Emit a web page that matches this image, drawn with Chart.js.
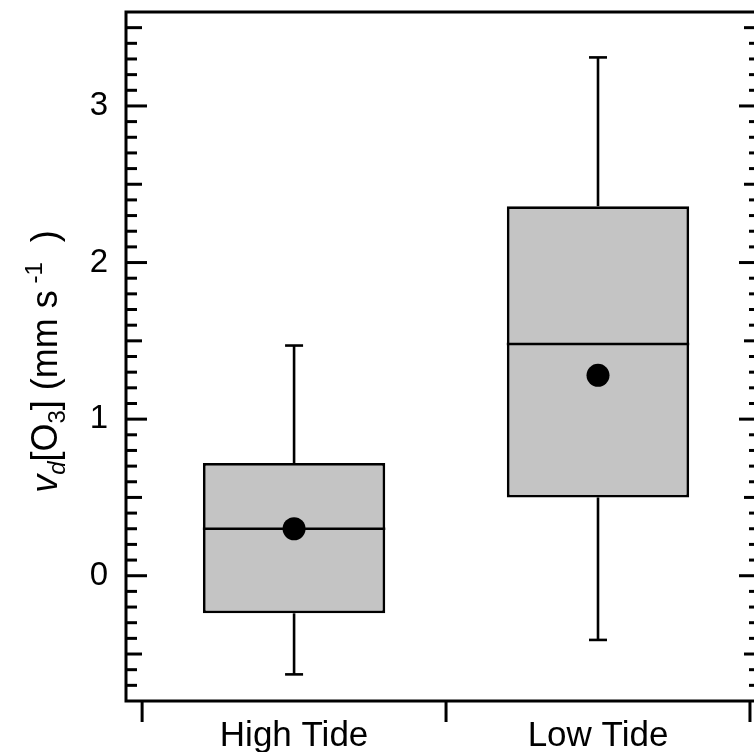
<!doctype html>
<html>
<head>
	<title>Ozone deposition velocity at high and low tide</title>
	<script src="https://cdn.jsdelivr.net/npm/chart.js@4/dist/chart.umd.min.js"></script>
	<style>
		html, body { margin: 0; padding: 0; overflow: hidden; background: #fff; }
	</style>
</head>

<body>
	<canvas id="chart-area" width="762" height="752"></canvas>
	<script>
		// box plot values (mm s-1)
		var categories = ['High Tide', 'Low Tide'];
		var whiskerLow = [-0.63, -0.41];
		var boxLow = [-0.24, 0.50];
		var medians = [0.30, 1.48];
		var boxHigh = [0.72, 2.36];
		var whiskerHigh = [1.47, 3.31];
		var means = [0.30, 1.28];
		var yTickLabels = [0, 1, 2, 3];

		var yMin = -0.8, yMax = 3.6;
		var xMin = -0.553, xMax = 1.533;
		var xBoundaries = [-0.5, 0.5, 1.5];

		var fontFamily = '"Liberation Sans", Arial, Helvetica, sans-serif';

		function line(ctx, x1, y1, x2, y2) {
			ctx.beginPath();
			ctx.moveTo(x1, y1);
			ctx.lineTo(x2, y2);
			ctx.stroke();
		}

		function noPadding(scale) {
			scale.paddingTop = 0;
			scale.paddingBottom = 0;
			scale.paddingLeft = 0;
			scale.paddingRight = 0;
		}

		// whiskers, medians, frame, inward y ticks on both sides, category separators below
		var frameTicks = {
			id: 'frameTicks',
			afterDatasetsDraw: function(chart) {
				var ctx = chart.ctx, ca = chart.chartArea;
				var xs = chart.scales.x, ys = chart.scales.y;
				ctx.save();
				ctx.strokeStyle = '#000';

				ctx.lineWidth = 2.6;
				var meta = chart.getDatasetMeta(1);
				for (var i = 0; i < categories.length; i++) {
					var cx = xs.getPixelForValue(i);
					var w = meta.data[i].width;
					line(ctx, cx, ys.getPixelForValue(boxHigh[i]), cx, ys.getPixelForValue(whiskerHigh[i]));
					line(ctx, cx, ys.getPixelForValue(boxLow[i]), cx, ys.getPixelForValue(whiskerLow[i]));
					line(ctx, cx - 9, ys.getPixelForValue(whiskerHigh[i]), cx + 9, ys.getPixelForValue(whiskerHigh[i]));
					line(ctx, cx - 9, ys.getPixelForValue(whiskerLow[i]), cx + 9, ys.getPixelForValue(whiskerLow[i]));
					line(ctx, cx - w / 2, ys.getPixelForValue(medians[i]), cx + w / 2, ys.getPixelForValue(medians[i]));
				}

				ctx.lineWidth = 3;
				ctx.strokeRect(ca.left, ca.top, ca.right - ca.left, ca.bottom - ca.top);

				for (var k = Math.round(yMin * 10) + 1; k < Math.round(yMax * 10); k++) {
					var py = ys.getPixelForValue(k / 10);
					var len = k % 10 === 0 ? 21 : (k % 5 === 0 ? 16 : 11);
					line(ctx, ca.left, py, ca.left + len, py);
					line(ctx, ca.right, py, ca.right - len, py);
				}

				xBoundaries.forEach(function(b) {
					var px = xs.getPixelForValue(b);
					line(ctx, px, ca.bottom, px, ca.bottom + 21);
				});
				ctx.restore();
			}
		};

		// rotated y title with italic subscript and superscript
		var yTitle = {
			id: 'yTitle',
			afterDraw: function(chart) {
				var ctx = chart.ctx, ca = chart.chartArea;
				var big = '36px ' + fontFamily;
				var small = '24px ' + fontFamily;
				var parts = [
					{ t: 'v', f: 'italic ' + big, dy: 0 },
					{ t: 'd', f: 'italic ' + small, dy: 8 },
					{ t: '[O', f: big, dy: 0 },
					{ t: '3', f: small, dy: 8 },
					{ t: '] (mm s', f: big, dy: 0 },
					{ t: ' -1', f: small, dy: -15 },
					{ t: '  )', f: big, dy: 0 }
				];
				ctx.save();
				var total = 0;
				parts.forEach(function(p) {
					ctx.font = p.f;
					p.w = ctx.measureText(p.t).width;
					total += p.w;
				});
				ctx.translate(57, (ca.top + ca.bottom) / 2 + 5);
				ctx.rotate(-Math.PI / 2);
				ctx.fillStyle = '#000';
				ctx.textBaseline = 'alphabetic';
				var x = -total / 2;
				parts.forEach(function(p) {
					ctx.font = p.f;
					ctx.fillText(p.t, x, p.dy);
					x += p.w;
				});
				ctx.restore();
			}
		};

		var config = {
			type: 'bar',
			data: {
				datasets: [{
					type: 'scatter',
					data: means.map(function(m, i) { return { x: i, y: m }; }),
					pointRadius: 11.5,
					pointHoverRadius: 11.5,
					backgroundColor: '#000',
					borderWidth: 0
				}, {
					type: 'bar',
					data: categories.map(function(c, i) { return { x: i, y: [boxLow[i], boxHigh[i]] }; }),
					backgroundColor: '#c4c4c4',
					borderColor: '#000',
					borderWidth: 2.8,
					borderSkipped: false,
					barPercentage: 0.6,
					categoryPercentage: 1
				}]
			},
			options: {
				responsive: false,
				animation: false,
				layout: { autoPadding: false, padding: { top: 12, right: 2, left: 0, bottom: 0 } },
				plugins: { legend: { display: false }, tooltip: { enabled: false } },
				scales: {
					x: {
						type: 'linear',
						offset: false,
						min: xMin,
						max: xMax,
						afterBuildTicks: function(scale) {
							scale.ticks = categories.map(function(c, i) { return { value: i }; });
						},
						afterFit: function(scale) { scale.height = 51; noPadding(scale); },
						ticks: {
							callback: function(value) { return categories[value]; },
							font: { family: fontFamily, size: 35 },
							color: '#000',
							padding: 14,
							maxRotation: 0,
							autoSkip: false
						},
						grid: { display: false, drawTicks: false, offset: false },
						border: { display: false }
					},
					y: {
						type: 'linear',
						min: yMin,
						max: yMax,
						afterBuildTicks: function(scale) {
							scale.ticks = yTickLabels.map(function(v) { return { value: v }; });
						},
						afterFit: function(scale) { scale.width = 126; noPadding(scale); },
						ticks: {
							callback: function(value) { return String(value); },
							font: { family: fontFamily, size: 33 },
							color: '#000',
							padding: 18
						},
						grid: { display: false, drawTicks: false },
						border: { display: false }
					}
				}
			},
			plugins: [frameTicks, yTitle]
		};

		window.onload = function() {
			var ctx = document.getElementById('chart-area').getContext('2d');
			window.myBox = new Chart(ctx, config);
		};
	</script>
</body>

</html>
